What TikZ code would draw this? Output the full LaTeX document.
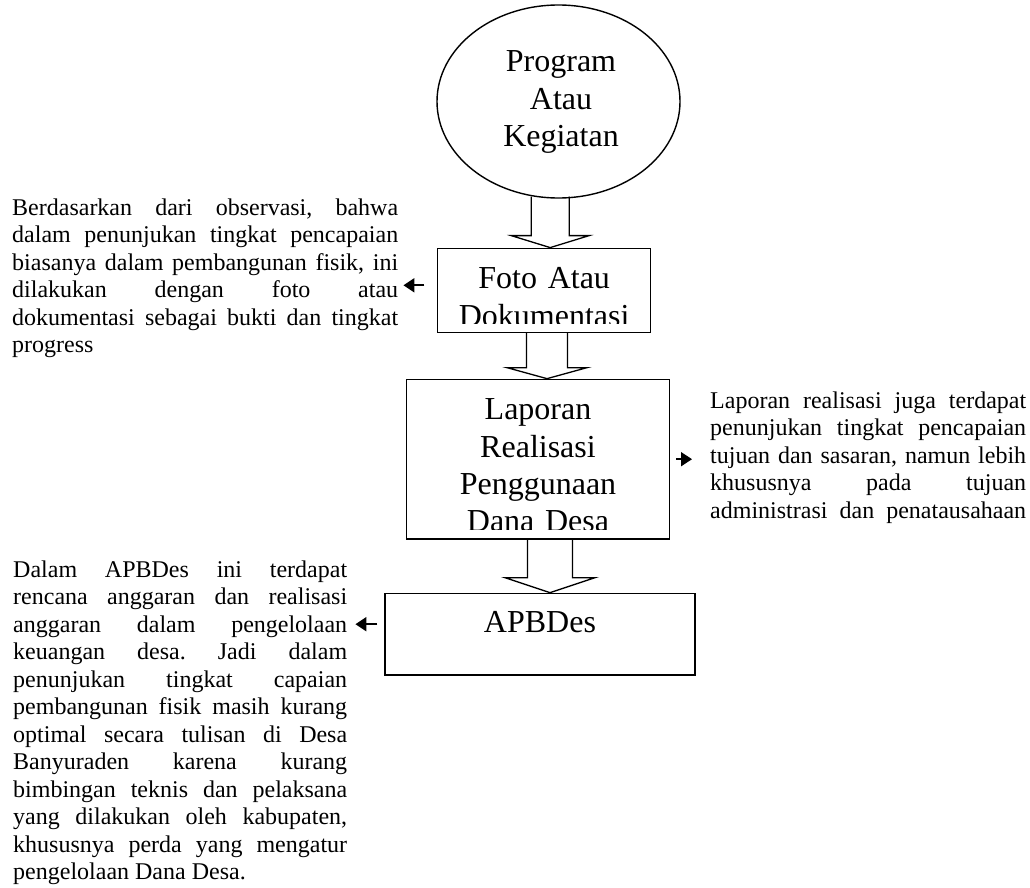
\documentclass[tikz,border=0pt]{standalone}
\usepackage{fontspec}
\setmainfont{Liberation Serif}
\usetikzlibrary{shapes.geometric,arrows.meta,calc}
\tolerance=10000
\hyphenpenalty=10000
\exhyphenpenalty=10000
\frenchspacing

% hollow downward block arrow: #1 start point, #2 tip, #3 shaft half-width,
% #4 head half-width, #5 head length (all in pt)
\newcommand\hollowdown[5]{%
  \draw[blockline] let \p1=#1, \p2=#2 in
    (\x2-#3pt,\y1) -- (\x2-#3pt,\y2+#5pt) -- (\x2-#4pt,\y2+#5pt) -- (\p2)
    -- (\x2+#4pt,\y2+#5pt) -- (\x2+#3pt,\y2+#5pt) -- (\x2+#3pt,\y1);}

\begin{document}
\begin{tikzpicture}[x=1pt,y=-1pt,
  shapeline/.style={draw=black,line width=1.4pt},
  box/.style={shapeline,rectangle,inner sep=0pt},
  blockline/.style={draw=black,line width=1.3pt,line join=miter},
  boxtxt/.style={anchor=base,inner sep=0pt,text width=250pt,align=center,
                 font=\fontsize{32}{37.3}\selectfont},
  para/.style={anchor=base west,inner sep=0pt,align=justify,
               font=\fontsize{24}{27.5}\selectfont},
  smallarr/.style={line width=2pt,-{Triangle[length=11pt,width=14pt]}}]

\fill[white] (0,0) rectangle (1030,888);
\useasboundingbox (0,0) rectangle (1030,888);

% main chain
\node[shapeline,ellipse,minimum width=243pt,minimum height=193pt,inner sep=0pt]
  (prog) at (558.5,101.5) {};
\node[boxtxt] (progtext) at (561,72) {Program\\Atau\\Kegiatan};

\node[box,minimum width=213pt,minimum height=84pt] (foto) at (544.2,290.3) {};
\begin{scope}
  \clip (foto.north west) rectangle ([yshift=10pt]foto.south east);
  \node[boxtxt] (fototext) at ([yshift=-41.2pt]foto.north) {Foto Atau\\Dokumentasi};
\end{scope}

\node[box,minimum width=262.6pt,minimum height=159.7pt] (lap) at (538,459.2) {};
\begin{scope}
  \clip (lap.north west) rectangle ([yshift=10pt]lap.south east);
  \node[boxtxt] (laptext) at ([yshift=-41.2pt]lap.north)
    {Laporan\\Realisasi\\Penggunaan\\Dana Desa};
\end{scope}

\node[box,minimum width=310pt,minimum height=81.7pt] (apb) at (540,634.2) {};
\node[boxtxt] (apbtext) at ([yshift=-40pt]apb.north) {APBDes};

% block arrows between the stages
\hollowdown{([yshift=2pt]prog.south)}{([xshift=6pt]foto.north)}{19}{39}{12}
\hollowdown{(foto.south)}{([xshift=9pt]lap.north)}{20.5}{40}{11}
\hollowdown{(lap.south)}{([xshift=10pt]apb.north)}{22.5}{45}{15}

% side notes
\node[para,text width=386pt] (obs) at (12,215) {Berdasarkan dari observasi, bahwa\linebreak
dalam penunjukan tingkat pencapaian\linebreak
biasanya dalam pembangunan fisik, ini\linebreak
dilakukan dengan foto atau\linebreak
dokumentasi sebagai bukti dan tingkat\linebreak
progress};

\node[para,text width=316pt] (lapnote) at (710,408) {Laporan realisasi juga terdapat\linebreak
penunjukan tingkat pencapaian\linebreak
tujuan dan sasaran, namun lebih\linebreak
khususnya pada tujuan\linebreak
\makebox[\linewidth][s]{administrasi dan penatausahaan}};

\node[para,text width=334pt] (apbnote) at (13,577) {Dalam APBDes ini terdapat\linebreak
rencana anggaran dan realisasi\linebreak
anggaran dalam pengelolaan\linebreak
keuangan desa. Jadi dalam\linebreak
penunjukan tingkat capaian\linebreak
pembangunan fisik masih kurang\linebreak
optimal secara tulisan di Desa\linebreak
Banyuraden karena kurang\linebreak
bimbingan teknis dan pelaksana\linebreak
yang dilakukan oleh kabupaten,\linebreak
khususnya perda yang mengatur\linebreak
pengelolaan Dana Desa.};

% pointers to the notes
\draw[smallarr] ([xshift=-12.7pt,yshift=5pt]foto.west)
  -- ($(obs.east |- foto.west)+(5pt,5pt)$);
\draw[smallarr] ([xshift=6pt]lap.east)
  -- ($(lapnote.west |- lap.east)+(-18pt,0pt)$);
\draw[smallarr] ([xshift=-7pt,yshift=10pt]apb.west)
  -- ($(apbnote.east |- apb.west)+(8pt,10pt)$);
\end{tikzpicture}
\end{document}
